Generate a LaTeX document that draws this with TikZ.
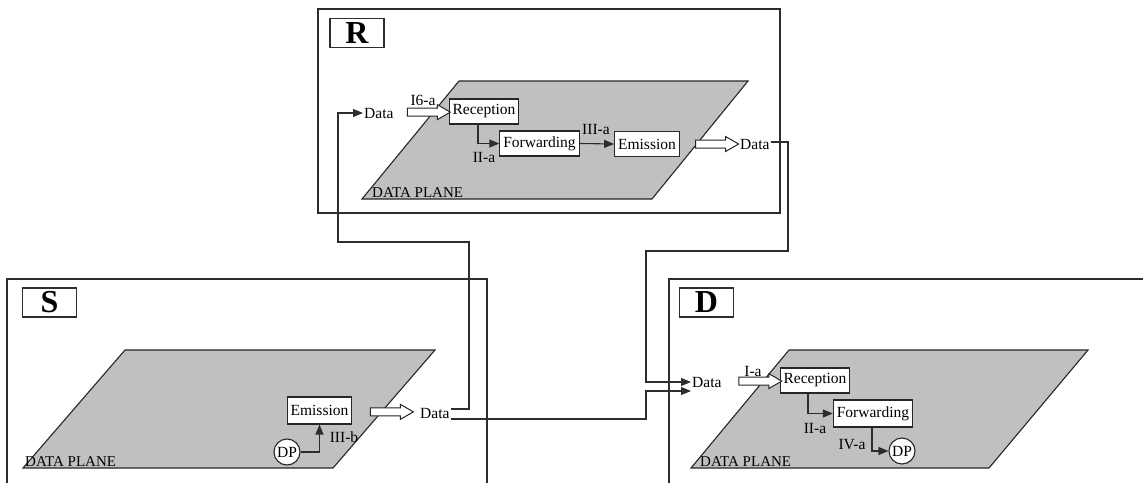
\documentclass[tikz,border=0pt]{standalone}
\usepackage{fontspec}
\setmainfont{Liberation Serif}
\usepackage{tikz}
\usetikzlibrary{arrows.meta,positioning,calc,shapes.arrows}
\definecolor{planegray}{RGB}{192,192,192}
\definecolor{edgegray}{RGB}{45,45,45}
\tikzset{
  panel/.style={
    draw=edgegray,
    line width=1.1pt
  },
  tag/.style={
    draw=edgegray,
    line width=1.1pt,
    minimum width=54pt,
    minimum height=29pt,
    inner sep=0pt,
    font=\fontsize{32}{34}\selectfont\bfseries
  },
  plane/.style={
    draw=black!85,
    fill=planegray,
    line width=1.1pt
  },
  func/.style={
    draw=black!85,
    fill=white,
    line width=1.1pt,
    minimum height=25pt,
    inner xsep=3.5pt,
    inner ysep=2pt,
    font=\fontsize{15.5}{17}\selectfont
  },
  dp/.style={
    circle,
    draw=black!85,
    fill=white,
    line width=1.1pt,
    minimum size=26pt,
    inner sep=0pt,
    font=\fontsize{15.5}{17}\selectfont
  },
  txt/.style={inner sep=1pt, font=\fontsize{15.5}{17}\selectfont},
  planetxt/.style={inner sep=0pt, anchor=base west, font=\fontsize{15}{17}\selectfont},
  arr/.style={-{Triangle[length=10pt,width=8pt]}, line width=1.1pt, edgegray},
  bigarr/.style={
    single arrow,
    draw=black!85,
    fill=white,
    line width=1pt,
    minimum height=43pt,
    inner sep=3.5pt,
    single arrow head extend=3.5pt,
    single arrow tip angle=60,
    pos=0.57
  }
}

\begin{document}
\begin{tikzpicture}[x=1pt,y=-1pt]
  \clip (0,0) rectangle (1143,482);

  % relay R
  \draw[panel] (318,9) rectangle (780,213);
  \node[tag] (rtag) at (357,33) {R};
  \draw[plane] (459,81) -- (748,81) -- (652,199) -- (362,199) -- cycle;
  \node[planetxt] (rplane) at (372,197) {DATA PLANE};
  \node[txt, anchor=west] (rdin) at (363,113) {Data};
  \node[func] (rrec) at (484,111.5) {Reception};
  \node[func] (rfwd) at (539.5,143.5) {Forwarding};
  \node[func] (remi) at (647,144) {Emission};
  \node[txt, anchor=west] (rdout) at (739,144) {Data};
  \path (rdin.east) -- node[bigarr] {} (rrec.west);
  \path (remi.east) -- node[bigarr] {} (rdout.west);
  \draw[arr] ([xshift=-6pt]rrec.south) |- (rfwd.west);
  \draw[arr] (rfwd.east) -- (remi.west);
  \node[txt] (ri6a) at (423,100) {I6-a};
  \node[txt] (riia) at (484,157) {II-a};
  \node[txt] (riiia) at (596,129) {III-a};

  % source S
  \draw[panel] (7,279) rectangle (487,520);
  \node[tag] (stag) at (49.5,302.5) {S};
  \draw[plane] (125,350) -- (435,350) -- (333,468) -- (23,468) -- cycle;
  \node[planetxt] (splane) at (25,466) {DATA PLANE};
  \node[func, minimum height=27pt] (semi) at (319.5,410.5) {Emission};
  \node[txt, anchor=west] (sdout) at (419,413) {Data};
  \node[dp] (sdp) at (287,452) {DP};
  \path (semi.east) -- node[bigarr, pos=0.54] {} (sdout.west);
  \draw[arr] (sdp.east) -| (semi.south);
  \node[txt] (siiib) at (344,437) {III-b};

  % destination D
  \draw[panel] (669,279) rectangle (1160,520);
  \node[tag] (dtag) at (706.5,302.5) {D};
  \draw[plane] (789,350) -- (1088,350) -- (989,468) -- (691,468) -- cycle;
  \node[planetxt] (dplane) at (700,466) {DATA PLANE};
  \node[txt, anchor=west] (ddin) at (691,382) {Data};
  \node[func] (drec) at (815,380.5) {Reception};
  \node[func, minimum height=27pt] (dfwd) at (873,413.5) {Forwarding};
  \node[dp] (ddp) at (902,451) {DP};
  \path (ddin.east) -- node[bigarr, pos=0.6] {} (drec.west);
  \draw[arr] ([xshift=-7pt]drec.south) |- (dfwd.west);
  \draw[arr] ([xshift=-1pt]dfwd.south) |- (ddp.west);
  \node[txt] (dia) at (753,371) {I-a};
  \node[txt] (diia) at (815,428) {II-a};
  \node[txt] (diva) at (852,445) {IV-a};

  % links between the nodes
  \coordinate (ja) at (469,242);
  \coordinate (jb) at (338,242);
  \coordinate (jc) at (646,391);
  \coordinate (jd) at (788,251);
  \coordinate (je) at (646,251);
  \draw[arr] ([yshift=4pt]sdout.east) -| (ja) -- (jb) |- (rdin.west);
  \draw[arr] ([yshift=-6pt]sdout.east) -| (jc) -- ([yshift=-9pt]ddin.west);
  \draw[arr] ([yshift=2pt]rdout.east) -| (jd) -- (je) |- (ddin.west);
\end{tikzpicture}
\end{document}
